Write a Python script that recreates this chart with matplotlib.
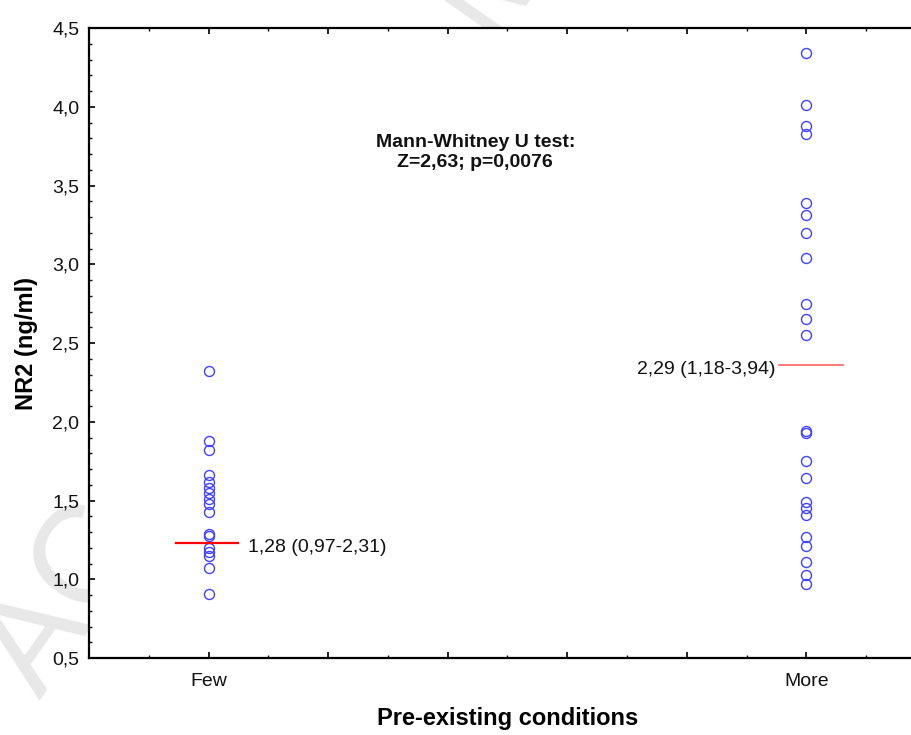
import matplotlib
matplotlib.use("Agg")
import matplotlib.pyplot as plt
from matplotlib.ticker import MultipleLocator, FixedLocator, FixedFormatter, FuncFormatter

plt.rcParams['font.family'] = ['Liberation Sans', 'DejaVu Sans']

# ---- data ----
categories = ["Few", "More"]
cat_pos = [0, 5]
few_values = [2.32, 1.88, 1.82, 1.66, 1.62, 1.58, 1.55, 1.51, 1.48, 1.43,
              1.29, 1.275, 1.20, 1.175, 1.15, 1.07, 0.905]
more_values = [4.34, 4.01, 3.88, 3.83, 3.39, 3.31, 3.20, 3.04, 2.75, 2.65, 2.55,
               1.94, 1.93, 1.75, 1.64, 1.49, 1.45, 1.41, 1.27, 1.21, 1.11, 1.03, 0.97]
median_lines = [1.232, 2.36]
median_labels = ["1,28 (0,97-2,31)", "2,29 (1,18-3,94)"]
test_text = "Mann-Whitney U test:\nZ=2,63; p=0,0076"

fig = plt.figure(figsize=(9.12, 7.35), dpi=100)

# faint watermark (hidden behind the white plot area, as in the reference)
fig.text(40/912, 1 - 700/735, "ACCEPTED MANUSCRIPT", rotation=55, fontsize=100,
         color='#e8e8e8', ha='left', va='baseline', zorder=-5,
         rotation_mode='anchor')

ax = fig.add_axes([89/912, 77/735, 837/912, 630/735], zorder=1)
ax.set_facecolor('white')

ax.plot([cat_pos[0]] * len(few_values), few_values, 'o', ms=7.2,
        mfc='none', mec='#4040ff', mew=1.0, linestyle='none', zorder=3)
ax.plot([cat_pos[1]] * len(more_values), more_values, 'o', ms=7.2,
        mfc='none', mec='#4040ff', mew=1.0, linestyle='none', zorder=3)

ax.plot([cat_pos[0] - 0.27, cat_pos[0] + 0.25], [median_lines[0]] * 2,
        color='#ff0000', lw=1.6, zorder=4)
ax.plot([cat_pos[1] - 0.23, cat_pos[1] + 0.31], [median_lines[1]] * 2,
        color='#ff7070', lw=1.3, zorder=4)

ax.text(cat_pos[0] + 0.33, 1.20, median_labels[0], fontsize=14,
        ha='left', va='center', color='#111111')
ax.text(cat_pos[1] - 0.26, 2.33, median_labels[1], fontsize=14,
        ha='right', va='center', color='#111111')

ax.text(2.23, 3.71, test_text, fontsize=14, fontweight='bold',
        ha='center', va='center', linespacing=1.25, color='#111111')

ax.set_xlim(-1, 6)
ax.set_ylim(0.5, 4.5)

ax.xaxis.set_major_locator(FixedLocator(list(range(-1, 7))))
lbls = [""] * 8
lbls[cat_pos[0] + 1] = categories[0]
lbls[cat_pos[1] + 1] = categories[1]
ax.xaxis.set_major_formatter(FixedFormatter(lbls))
ax.xaxis.set_minor_locator(MultipleLocator(0.5))
ax.yaxis.set_major_locator(MultipleLocator(0.5))
ax.yaxis.set_minor_locator(MultipleLocator(0.1))
ax.yaxis.set_major_formatter(FuncFormatter(lambda v, p: f"{v:.1f}".replace('.', ',')))

ax.tick_params(axis='both', which='both', direction='in', top=True, right=False,
               labelsize=14, colors='#111111')
ax.tick_params(axis='both', which='major', length=4, width=1.3)
ax.tick_params(axis='both', which='minor', length=2.5, width=1.0)
ax.tick_params(axis='x', which='major', pad=11)
ax.tick_params(axis='y', which='major', pad=7)

for s in ax.spines.values():
    s.set_linewidth(1.6)
ax.spines['right'].set_visible(False)

ax.set_xlabel("Pre-existing conditions", fontsize=17, fontweight='bold', labelpad=12)
ax.set_ylabel("NR2 (ng/ml)", fontsize=17, fontweight='bold', labelpad=10)

fig.savefig("out.png", dpi=100)
